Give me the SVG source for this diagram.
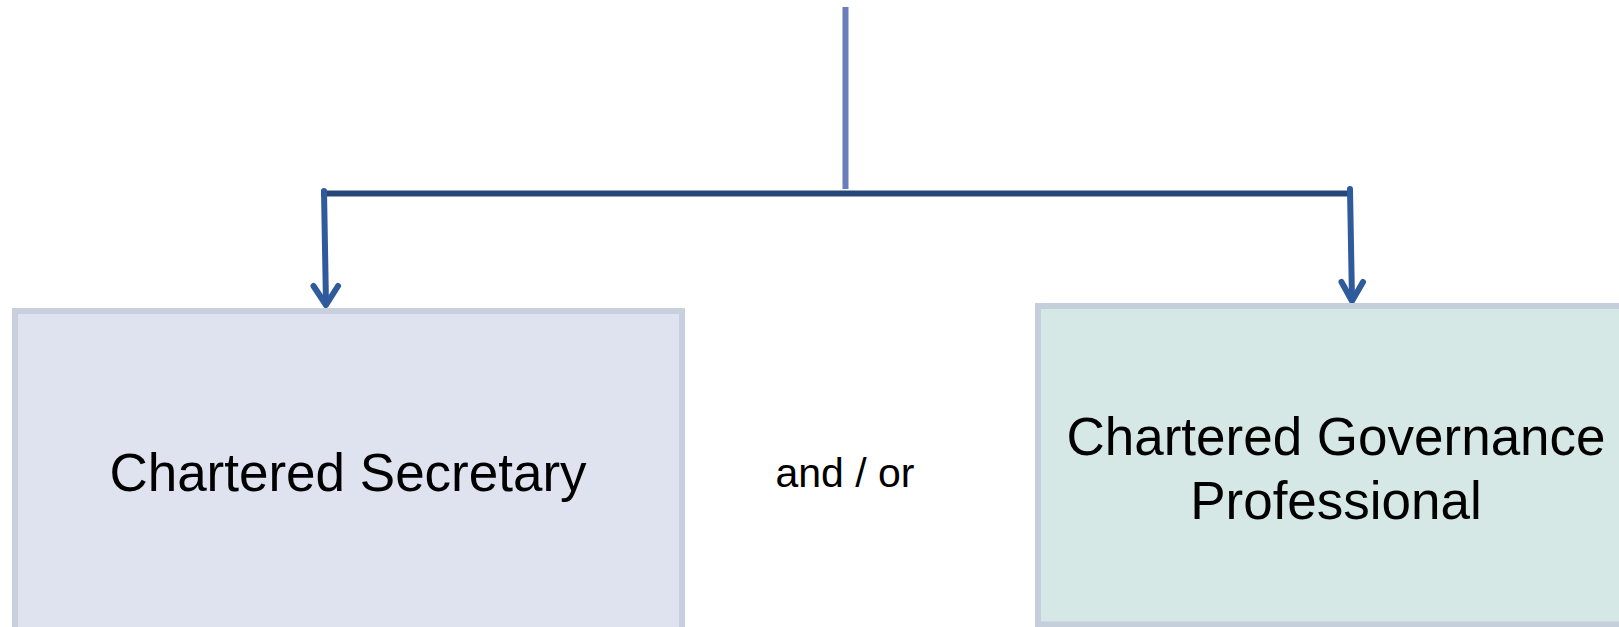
<svg xmlns="http://www.w3.org/2000/svg" width="1619" height="627" viewBox="0 0 1619 627">
<style>
.box{stroke-width:6}
.lbl{font-family:"Liberation Sans",Arial,sans-serif;fill:#000;text-anchor:middle}
.arr{fill:none;stroke:#2f5a9b;stroke-width:6;stroke-linecap:round;stroke-linejoin:round}
</style>
<rect width="1619" height="627" fill="#fff"/>
<g id="connectors">
<line x1="845.5" y1="7" x2="845.5" y2="189" stroke="#6a7dbc" stroke-width="6"/>
<line x1="321" y1="193.5" x2="1353" y2="193.5" stroke="#264778" stroke-width="6"/>
<path class="arr" d="M324 191 L326 304"/>
<path class="arr" d="M313.5 286 L326 305 L338 286"/>
<path class="arr" d="M1350 189 L1352 300"/>
<path class="arr" d="M1341.5 282 L1352 301 L1363 282"/>
</g>
<g id="node-secretary">
<rect class="box" x="15" y="311" width="667" height="340" fill="#dfe3ef" stroke="#c7d0dc"/>
<text class="lbl" x="348" y="491" font-size="53">Chartered Secretary</text>
</g>
<g id="node-andor">
<text class="lbl" x="845" y="487" font-size="41">and / or</text>
</g>
<g id="node-governance">
<rect class="box" x="1038" y="306" width="600" height="318.5" fill="#d6e8e6" stroke="#c5cfdc"/>
<text class="lbl" x="1336" y="455" font-size="53">Chartered Governance</text>
<text class="lbl" x="1336" y="519" font-size="53">Professional</text>
</g>
</svg>
